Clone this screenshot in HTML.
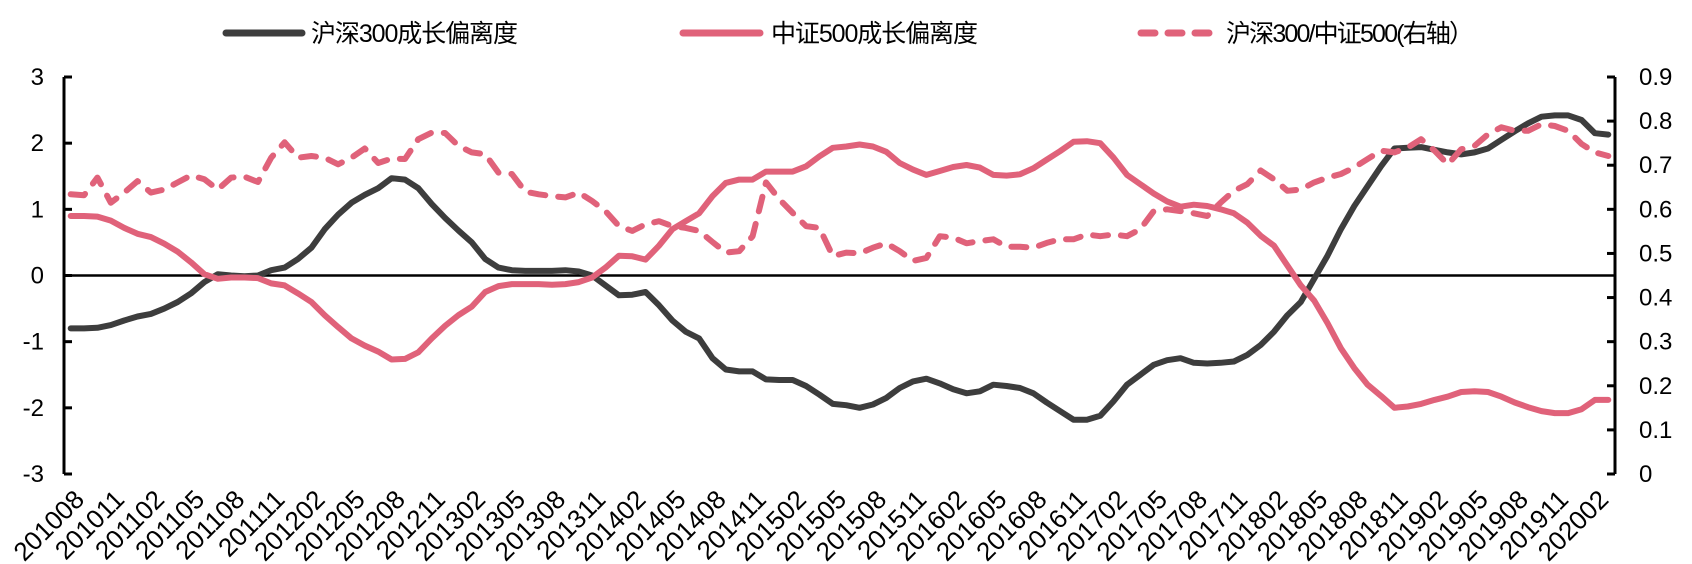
<!DOCTYPE html>
<html><head><meta charset="utf-8"><style>
html,body{margin:0;padding:0;background:#fff;}
svg{display:block;font-family:"Liberation Sans","Noto Sans CJK SC",sans-serif;}
</style></head><body>
<svg id="chart" width="1692" height="564" viewBox="0 0 1692 564" xmlns="http://www.w3.org/2000/svg">
<g id="legend">
  <g>
    <line x1="226" y1="33" x2="302" y2="33" stroke="#3d3d3d" stroke-width="7" stroke-linecap="round"/>
    <text x="311" y="42" font-size="25" textLength="207" fill="#000">沪深300成长偏离度</text>
  </g>
  <g>
    <line x1="683" y1="33" x2="760" y2="33" stroke="#e0627a" stroke-width="7" stroke-linecap="round"/>
    <text x="771" y="42" font-size="25" textLength="207" fill="#000">中证500成长偏离度</text>
  </g>
  <g>
    <line x1="1141" y1="33" x2="1210" y2="33" stroke="#e0627a" stroke-width="7" stroke-linecap="round" stroke-dasharray="14 13"/>
    <text x="1226" y="42" font-size="25" textLength="248" fill="#000">沪深300/中证500(右轴）</text>
  </g>
</g>
<g id="axes"></g>
<g id="series"></g>
</svg>
<script>
const months = [];
(function(){let y=2010,m=8;for(let i=0;i<116;i++){months.push(String(y)+(m<10?'0':'')+m);m++;if(m>12){m=1;y++;}}})();
const leftTicks = [3,2,1,0,-1,-2,-3];
const rightTicks = [0.9,0.8,0.7,0.6,0.5,0.4,0.3,0.2,0.1,0];
const rightTickLabels = ['0.9','0.8','0.7','0.6','0.5','0.4','0.3','0.2','0.1','0'];
const hs300 = [-0.8,-0.8,-0.79,-0.75,-0.68,
-0.62,-0.58,-0.5,-0.4,-0.27,-0.1,0.02,0.0,-0.01,0.0,0.08,0.12,
0.25,0.42,0.7,0.92,1.1,1.22,1.32,1.47,1.45,1.32,1.08,0.87,
0.68,0.5,0.25,0.12,0.08,0.07,0.07,0.07,0.08,0.06,0.0,-0.15,
-0.3,-0.29,-0.25,-0.45,-0.68,-0.85,-0.95,-1.25,-1.42,-1.45,-1.45,-1.57,
-1.58,-1.58,-1.67,-1.8,-1.94,-1.96,-2.0,-1.95,-1.85,-1.7,-1.6,-1.56,
-1.63,-1.72,-1.78,-1.75,-1.65,-1.67,-1.7,-1.78,-1.92,-2.05,-2.18,-2.18,
-2.12,-1.9,-1.65,-1.5,-1.35,-1.28,-1.25,-1.32,-1.33,-1.32,-1.3,-1.2,
-1.05,-0.85,-0.6,-0.4,-0.05,0.3,0.7,1.05,1.35,1.65,1.92,1.93,
1.94,1.9,1.86,1.83,1.86,1.92,2.05,2.18,2.3,2.4,2.42,2.42,
2.35,2.15,2.13];
const zz500 = [0.9,0.9,0.89,0.83,0.72,
0.63,0.58,0.48,0.36,0.2,0.02,-0.05,-0.03,-0.03,-0.04,-0.12,-0.15,
-0.27,-0.4,-0.6,-0.78,-0.95,-1.06,-1.15,-1.27,-1.26,-1.16,-0.95,-0.76,
-0.6,-0.47,-0.25,-0.16,-0.13,-0.13,-0.13,-0.14,-0.13,-0.1,-0.03,0.12,
0.3,0.29,0.24,0.45,0.7,0.82,0.94,1.2,1.4,1.45,1.45,1.57,
1.57,1.57,1.65,1.8,1.93,1.95,1.98,1.95,1.87,1.7,1.6,1.52,
1.58,1.64,1.67,1.63,1.52,1.51,1.53,1.62,1.75,1.88,2.02,2.03,
2.0,1.78,1.52,1.38,1.24,1.12,1.04,1.07,1.05,1.0,0.94,0.8,
0.6,0.45,0.15,-0.15,-0.38,-0.72,-1.1,-1.4,-1.65,-1.82,-2.0,-1.98,
-1.94,-1.88,-1.83,-1.76,-1.75,-1.76,-1.83,-1.92,-1.99,-2.05,-2.08,-2.08,
-2.02,-1.88,-1.88];
const ratio = [.634,.632,.672,.615,.638,.664,.638,.645,.661,.677,.668,.645,.672,.674,.662,.717,.752,.717,.721,.717,.702,.717,.738,.705,.715,.714,.759,.774,.773,.744,.729,.725,.683,.680,.640,.634,.630,
.627,.638,.619,.596,.562,.551,.566,.573,.562,.558,.551,.526,.502,.505,.539,.661,.623,.592,.562,.558,.494,.502,.500,.513,.523,.505,.483,.490,.539,.536,.523,.528,.532,.515,.515,.513,.524,.532,.532,.543,
.539,.543,.539,.555,.596,.600,.596,.591,.585,.615,.642,.657,.688,.668,.642,.645,.661,.672,.680,.695,.714,.733,.729,.740,.759,.733,.702,.736,.744,.770,.786,.778,.778,.793,.789,.778,.748,.729,.721];

const NS='http://www.w3.org/2000/svg';
const X0=64, X1=1615, YT=77, YB=474;
const bw=(X1-X0)/months.length;
function xPos(i){return X0+bw*(i+0.5);}
function yL(v){return YT+(3-v)/6*(YB-YT);}
function yR(v){return YT+(0.9-v)/0.9*(YB-YT);}
function mk(tag,attrs,parent){const e=document.createElementNS(NS,tag);for(const k in attrs)e.setAttribute(k,attrs[k]);parent.appendChild(e);return e;}
const axes=document.getElementById('axes');
const ser=document.getElementById('series');

const la=mk('line',{x1:X0,y1:YT,x2:X0,y2:YB,stroke:'#000','stroke-width':3},axes);


leftTicks.forEach(v=>{
  const t=mk('line',{x1:X0,y1:yL(v),x2:X0+8,y2:yL(v),stroke:'#000','stroke-width':3},axes);
  
  
  const tx=mk('text',{x:44,y:yL(v)+8,'font-size':24,'text-anchor':'end',fill:'#000'},axes);
  
  
  tx.textContent=String(v);
});
const ra=mk('line',{x1:X1,y1:YT,x2:X1,y2:YB,stroke:'#000','stroke-width':3},axes);


rightTicks.forEach((v,k)=>{
  const t=mk('line',{x1:X1-8,y1:yR(v),x2:X1,y2:yR(v),stroke:'#000','stroke-width':3},axes);
  
  
  const tx=mk('text',{x:1639,y:yR(v)+8,'font-size':24,fill:'#000'},axes);
  
  
  tx.textContent=rightTickLabels[k];
});
const zl=mk('line',{x1:X0,y1:yL(0),x2:X1,y2:yL(0),stroke:'#000','stroke-width':2.5},axes);


months.forEach((m,i)=>{
  if(i%3!==0) return;
  const x=xPos(i)+15, y=501;
  const tx=mk('text',{x:x,y:y,'font-size':26,'text-anchor':'end',fill:'#000',transform:`rotate(-45 ${x} ${y})`},axes);
  
  
  tx.textContent=m;
});
function path(vals,yf){return vals.map((v,i)=>(i?'L':'M')+xPos(i).toFixed(1)+' '+yf(v).toFixed(1)).join(' ');}
const p1=mk('path',{d:path(hs300,yL),fill:'none',stroke:'#3d3d3d','stroke-width':6,'stroke-linejoin':'round','stroke-linecap':'round'},ser);


const p2=mk('path',{d:path(zz500,yL),fill:'none',stroke:'#e0627a','stroke-width':6,'stroke-linejoin':'round','stroke-linecap':'round'},ser);


const p3=mk('path',{d:path(ratio,yR),fill:'none',stroke:'#e0627a','stroke-width':6,'stroke-linejoin':'round','stroke-linecap':'round','stroke-dasharray':'15 13'},ser);


</script>
</body></html>
